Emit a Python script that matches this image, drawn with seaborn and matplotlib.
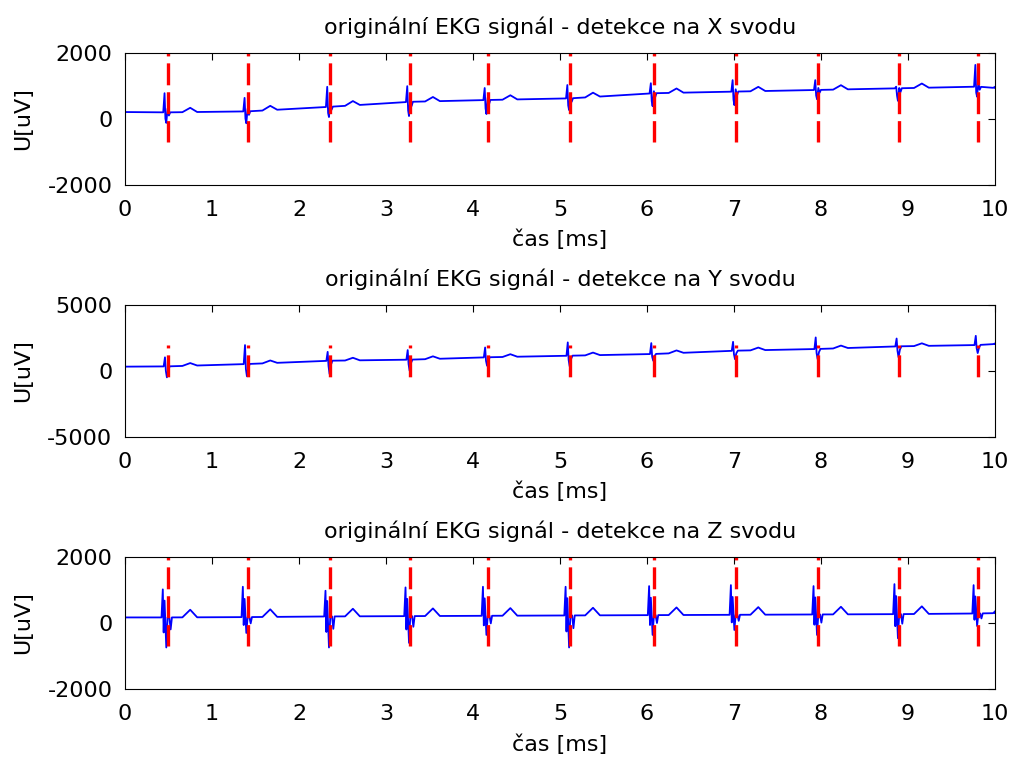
import numpy as np
import pandas as pd
import matplotlib
matplotlib.use("Agg")
import matplotlib.pyplot as plt
import seaborn as sns

# detected R-peak positions (same for all three leads)
beat_times = [0.49, 1.41, 2.36, 3.28, 4.17, 5.12, 6.08, 7.02, 7.97, 8.90, 9.81]
det_top = 2000
det_bottom = -700

# isoelectric level at every beat [uV], plus level at t=0 and t=10
base_x = [200, 230, 370, 520, 575, 625, 780, 830, 880, 930, 980]
base_y = [350, 530, 780, 860, 1040, 1160, 1290, 1540, 1670, 1870, 1970]
base_z = [170, 180, 200, 210, 220, 230, 240, 250, 260, 270, 290]
edge_x = [210, 940]
edge_y = [330, 2045]
edge_z = [170, 300]

# R peak and S trough of every beat [uV]
r_x = [780, 640, 980, 1000, 940, 1030, 1090, 1180, 1180, 980, 1640]
s_x = [-120, -130, 60, 90, 150, 270, 390, 420, 600, 550, 675]
r_y = [1040, 1970, 1460, 1590, 1790, 2170, 2120, 2220, 2550, 2470, 2670]
s_y = [-480, -400, -230, 20, 400, 350, 780, 900, 900, 1040, 1360]
r_z = [1020, 1100, 980, 1080, 1100, 1100, 1120, 1150, 1120, 1180, 1150]
s_z = [-740, -300, -740, -600, -360, -740, -360, -210, -360, -460, -90]

# QRS shape: offset from detection [s], share of R and of S deflection
qrs_t_x = [-0.05, -0.035, -0.025, -0.015, 0.0, 0.015, 0.03]
qrs_r_x = [0, 1, 0, 0, 0.2, 0, 0]
qrs_s_x = [0, 0, 0.6, 1, 0, 0.3, 0]
qrs_t_y = [-0.045, -0.03, -0.02, -0.008, 0.008, 0.025]
qrs_r_y = [0, 1, 0, 0, 0, 0]
qrs_s_y = [0, 0, 0.4, 1, 0.3, 0]
qrs_t_z = [-0.07, -0.055, -0.045, -0.035, -0.015, 0.0, 0.02, 0.035, 0.05]
qrs_r_z = [0, 1, 0, 0.6, 0, 0, 0, 0, 0]
qrs_s_z = [0, 0, 0.5, 0, 1, 0, 0, 0.4, 0]

# T wave after each beat
twave_t = [0.17, 0.26, 0.34]
twave_w = [0, 1, 0]
t_amp = {"X": 130, "Y": 200, "Z": 230}

ylims = {"X": 2000, "Y": 5000, "Z": 2000}
xticks = list(range(0, 11))


def build_lead(base, edge, r, s, q_t, q_r, q_s, amp):
    knots = [0.0] + beat_times + [10.0]
    levels = [edge[0]] + base + [edge[1]]
    tt = [0.0]
    for b in beat_times:
        tt += [b + d for d in q_t] + [b + d for d in twave_t]
    tt.append(10.0)
    tt = np.array(tt)
    vv = np.interp(tt, knots, levels)
    pos = 1
    for i, b in enumerate(beat_times):
        for wr, ws in zip(q_r, q_s):
            vv[pos] += wr * (r[i] - base[i]) + ws * (s[i] - base[i])
            pos += 1
        for w in twave_w:
            vv[pos] += w * amp
            pos += 1
    return pd.DataFrame({"t": tt, "u": vv})


leads = {
    "X": build_lead(base_x, edge_x, r_x, s_x, qrs_t_x, qrs_r_x, qrs_s_x, t_amp["X"]),
    "Y": build_lead(base_y, edge_y, r_y, s_y, qrs_t_y, qrs_r_y, qrs_s_y, t_amp["Y"]),
    "Z": build_lead(base_z, edge_z, r_z, s_z, qrs_t_z, qrs_r_z, qrs_s_z, t_amp["Z"]),
}

sns.set_style("white")
plt.rcParams["font.family"] = ["DejaVu Sans"]
plt.rcParams["font.size"] = 16
plt.rcParams["lines.scale_dashes"] = False
plt.rcParams["axes.unicode_minus"] = False
for key in ["text.color", "axes.labelcolor", "xtick.color", "ytick.color"]:
    plt.rcParams[key] = "black"

fig = plt.figure(figsize=(10.11, 7.58), dpi=100)
bottoms = [0.756, 0.4235, 0.091]

for name, bot in zip(["X", "Y", "Z"], bottoms):
    ax = fig.add_axes([0.1236, bot, 0.8605, 0.1741])
    sns.lineplot(data=leads[name], x="t", y="u", ax=ax, color="#0000ff",
                 lw=1.3, estimator=None, sort=False)
    for b in beat_times:
        ax.plot([b, b], [det_top, det_bottom], color="#ff0000", lw=2.4,
                linestyle=(13.7, (15.8, 5.0)))
    lim = ylims[name]
    ax.set_xlim(0, 10)
    ax.set_ylim(-lim, lim)
    ax.set_xticks(xticks)
    ax.set_yticks([-lim, 0, lim])
    ax.tick_params(direction="in", length=5, width=0.8, top=True, right=True,
                   labelsize=16, color="black")
    ax.tick_params(axis="x", pad=11)
    ax.tick_params(axis="y", pad=9)
    for sp in ax.spines.values():
        sp.set_color("black")
        sp.set_linewidth(0.8)
    ax.set_title(f"originální EKG signál - detekce na {name} svodu", fontsize=16, pad=14)
    ax.set_xlabel("čas [ms]", fontsize=16, labelpad=7)
    ax.set_ylabel("U[uV]", fontsize=16, labelpad=10)

fig.savefig("out.png", dpi=100)
